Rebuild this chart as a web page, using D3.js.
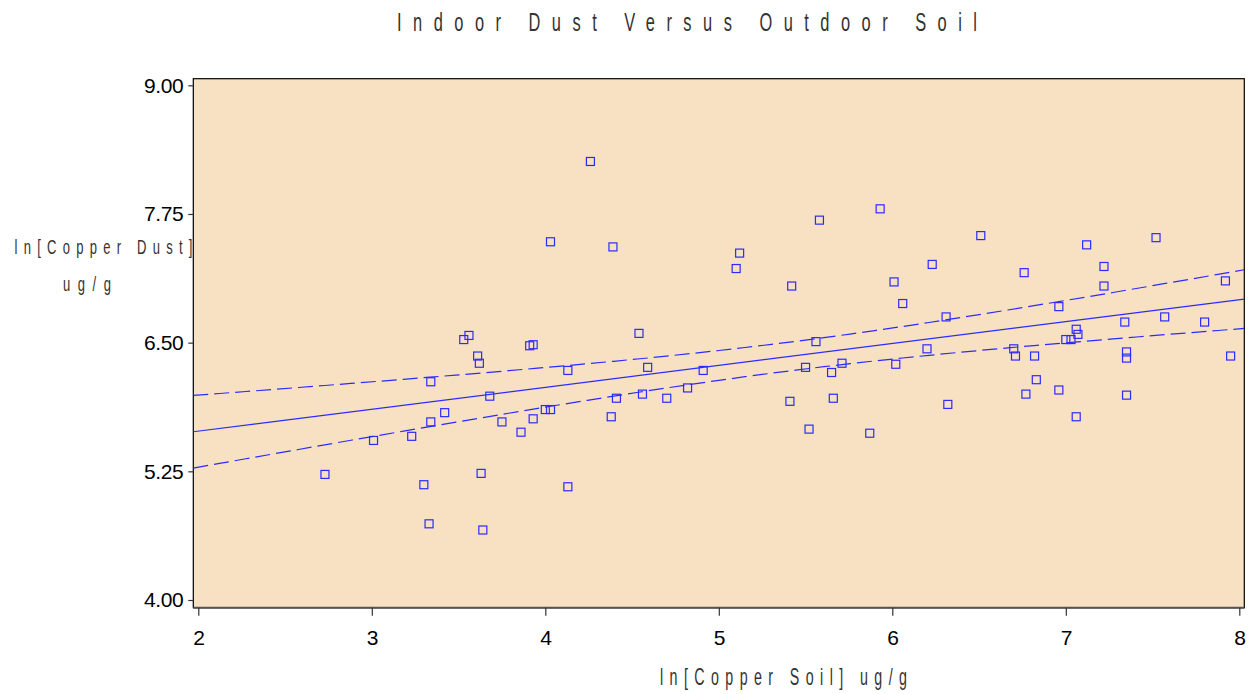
<!DOCTYPE html>
<html>
<head>
<meta charset="utf-8">
<script src="https://cdn.jsdelivr.net/npm/d3@7"></script>
<style>
  html, body { margin: 0; padding: 0; background: #fff; }
  svg { display: block; }
</style>
</head>
<body>
<svg id="chart"></svg>
<script>
// ln[Copper Soil] (x) and ln[Copper Dust] (y)
const soil = [
  3.53, 3.56, 3.61, 3.62, 3.91, 3.93, 4.13, 3.34, 3.68, 3.42,
  3.34, 3.75, 3.93, 4.00, 4.03, 3.86, 3.23, 3.01, 2.73, 3.30,
  3.63, 4.13, 3.33, 3.64, 4.26, 4.03, 4.39, 5.58, 5.12, 5.10,
  5.42, 4.54, 6.06, 5.56, 4.59, 4.91, 5.50, 5.65, 5.71, 6.02,
  4.82, 4.56, 4.41, 4.70, 4.38, 5.41, 5.66, 5.52, 5.87, 5.93,
  6.51, 7.12, 7.52, 6.23, 6.76, 7.22, 7.22, 6.01, 6.96, 6.31,
  7.57, 7.34, 7.06, 7.07, 7.00, 7.03, 6.20, 6.70, 6.71, 6.82,
  7.35, 7.35, 6.83, 6.77, 6.96, 7.35, 6.32, 7.06, 7.92, 7.80,
  7.95
];
const dust = [
  6.53, 6.57, 6.37, 6.30, 6.47, 6.48, 6.23, 6.12, 5.98, 5.82,
  5.73, 5.73, 5.76, 5.85, 5.85, 5.63, 5.59, 5.55, 5.22, 5.12,
  5.23, 5.10, 4.74, 4.68, 8.26, 7.48, 7.43, 7.69, 7.37, 7.22,
  7.05, 6.59, 6.88, 6.51, 6.26, 6.23, 6.26, 6.21, 6.30, 6.29,
  6.06, 6.00, 5.96, 5.96, 5.78, 5.93, 5.96, 5.66, 5.62, 7.80,
  7.54, 7.45, 7.52, 7.26, 7.18, 7.24, 7.05, 7.09, 6.85, 6.75,
  6.75, 6.70, 6.63, 6.58, 6.53, 6.53, 6.44, 6.44, 6.37, 6.37,
  6.41, 6.35, 6.14, 6.00, 6.04, 5.99, 5.90, 5.78, 7.10, 6.70,
  6.37
];
const xTicks = [2, 3, 4, 5, 6, 7, 8];
const yTicks = [4.00, 5.25, 6.50, 7.75, 9.00];

const width = 1254;
const height = 694;
const frame = { left: 193.3, right: 1244.3, top: 78.7, bottom: 607.7 };
const blue = '#2b2bff';

const svg = d3.select('#chart').attr('width', width).attr('height', height);

const x = d3.scaleLinear().domain([2, 8]).range([198.3, 1239.3]);
const y = d3.scaleLinear().domain([4, 9]).range([600, 85.3]);

// plot background and frame
svg.append('rect')
  .attr('x', frame.left)
  .attr('y', frame.top)
  .attr('width', frame.right - frame.left)
  .attr('height', frame.bottom - frame.top)
  .attr('fill', '#f8e0c3')
  .attr('stroke', '#000')
  .attr('stroke-width', 1.2);

svg.append('line')
  .attr('x1', frame.left)
  .attr('x2', frame.right)
  .attr('y1', frame.bottom)
  .attr('y2', frame.bottom)
  .attr('stroke', '#555')
  .attr('stroke-width', 2);

svg.append('clipPath')
  .attr('id', 'plot-clip')
  .append('rect')
  .attr('x', frame.left)
  .attr('y', frame.top)
  .attr('width', frame.right - frame.left)
  .attr('height', frame.bottom - frame.top);

// axes
const yAxis = svg.append('g')
  .attr('transform', `translate(${frame.left},0)`)
  .call(d3.axisLeft(y).tickValues(yTicks).tickFormat(d3.format('.2f'))
    .tickSize(5).tickSizeOuter(0).tickPadding(5));

const xAxis = svg.append('g')
  .attr('transform', `translate(0,${frame.bottom})`)
  .call(d3.axisBottom(x).tickValues(xTicks).tickFormat(d3.format('d'))
    .tickSize(8).tickSizeOuter(0).tickPadding(14));

[xAxis, yAxis].forEach((g) => {
  g.select('.domain').remove();
  g.selectAll('.tick line').attr('stroke', '#333').attr('stroke-width', 1.2);
  g.selectAll('.tick text')
    .attr('fill', '#000')
    .style('font-family', '"Liberation Sans", Arial, sans-serif')
    .style('font-size', '21px')
    .style('letter-spacing', '-0.4px');
});

// least squares fit with 95% confidence limits for the mean
const n = soil.length;
const mx = d3.mean(soil);
const my = d3.mean(dust);
const sxx = d3.sum(soil, (v) => (v - mx) ** 2);
const sxy = d3.sum(soil, (v, i) => (v - mx) * (dust[i] - my));
const slope = sxy / sxx;
const intercept = my - slope * mx;
const sse = d3.sum(soil, (v, i) => (dust[i] - intercept - slope * v) ** 2);
const s = Math.sqrt(sse / (n - 2));
const tval = 1.9905;

const x0 = x.invert(frame.left);
const x1 = x.invert(frame.right);
const grid = d3.range(0, 41).map((i) => x0 + ((x1 - x0) * i) / 40);
const fit = (v) => intercept + slope * v;
const half = (v) => tval * s * Math.sqrt(1 / n + (v - mx) ** 2 / sxx);

const line = d3.line().x((d) => x(d[0])).y((d) => y(d[1]));
const lines = svg.append('g').attr('clip-path', 'url(#plot-clip)');

lines.append('path')
  .attr('d', line([[x0, fit(x0)], [x1, fit(x1)]]))
  .attr('fill', 'none')
  .attr('stroke', blue)
  .attr('stroke-width', 1.2);

[1, -1].forEach((sign) => {
  lines.append('path')
    .attr('d', line(grid.map((v) => [v, fit(v) + sign * half(v)])))
    .attr('fill', 'none')
    .attr('stroke', blue)
    .attr('stroke-width', 1.2)
    .attr('stroke-dasharray', '15,6');
});

// points
svg.append('g')
  .selectAll('rect')
  .data(soil.map((v, i) => [v, dust[i]]))
  .enter()
  .append('rect')
  .attr('x', (d) => x(d[0]) - 4)
  .attr('y', (d) => y(d[1]) - 4)
  .attr('width', 8)
  .attr('height', 8)
  .attr('fill', 'none')
  .attr('stroke', blue)
  .attr('stroke-width', 1.2);

// thin, widely spaced labels in the style of the original
function label(text, cx, baseline, size, totalWidth, squeeze) {
  svg.append('text')
    .attr('transform', `translate(${cx},${baseline}) scale(${squeeze},1)`)
    .attr('text-anchor', 'middle')
    .attr('textLength', totalWidth / squeeze)
    .attr('lengthAdjust', 'spacing')
    .style('font-family', '"Liberation Sans", Arial, sans-serif')
    .style('font-size', `${size}px`)
    .attr('fill', '#333')
    .text(text);
}

label('Indoor Dust Versus Outdoor Soil', 687, 31, 26.5, 580, 0.62);
label('ln[Copper Dust]', 103.5, 254, 21, 178, 0.62);
label('ug/g', 87, 291, 21, 48, 0.62);
label('ln[Copper Soil] ug/g', 783.5, 685, 23, 247, 0.62);
</script>
</body>
</html>
